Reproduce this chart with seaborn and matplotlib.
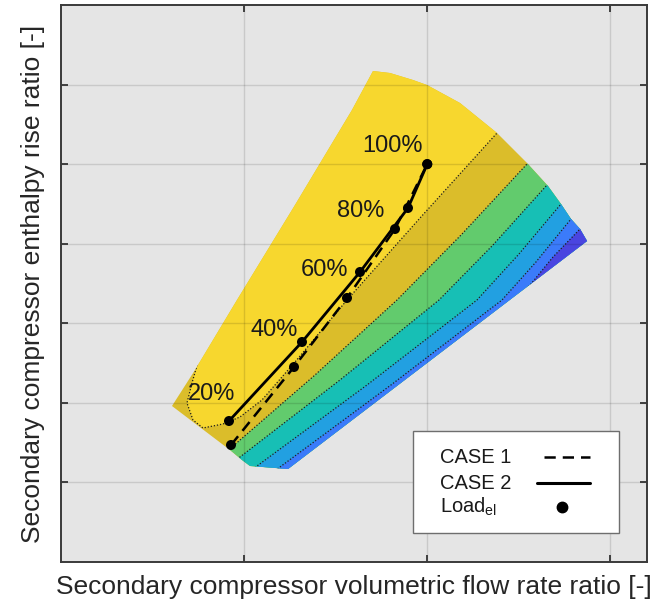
import matplotlib
matplotlib.use("Agg")
import matplotlib.pyplot as plt
from matplotlib.patches import Polygon, Rectangle
import numpy as np
import pandas as pd
import seaborn as sns

# operating map outline (flow ratio, enthalpy rise ratio)
map_x = [0.3031, 0.3659, 0.4805, 0.6389, 0.7945, 0.8519, 0.8983, 0.9611, 0.9993, 1.0894,
         1.1905, 1.2724, 1.3297, 1.3652, 1.3925, 1.4171, 1.4362, 0.6198, 0.5160, 0.4942, 0.4614]
map_y = [0.3921, 0.4826, 0.6585, 0.8973, 1.1361, 1.2341, 1.2291, 1.2115, 1.1989, 1.1537,
         1.0783, 1.0029, 0.9451, 0.8998, 0.8621, 0.8370, 0.8068, 0.2338, 0.2413, 0.2564, 0.2815]

# contour boundaries (lower-left -> upper-right)
gold_green_x = [0.4123, 0.4669, 0.6935, 0.9174, 1.0949, 1.2724, 1.3406]
gold_green_y = [0.2438, 0.2891, 0.4700, 0.6585, 0.8244, 1.0004, 1.0657]
green_teal_x = [0.4341, 0.4887, 0.7618, 1.0321, 1.1795, 1.3270, 1.3898]
green_teal_y = [0.2237, 0.2639, 0.4575, 0.6585, 0.7968, 0.9476, 1.0104]
teal_lb_x = [0.4887, 0.5352, 0.8355, 1.1358, 1.2505, 1.3652, 1.4171]
teal_lb_y = [0.2086, 0.2413, 0.4449, 0.6585, 0.7742, 0.8998, 0.9551]
lb_blue_x = [0.5433, 0.5980, 0.9010, 1.2041, 1.2969, 1.3925, 1.4444]
lb_blue_y = [0.2011, 0.2388, 0.4449, 0.6585, 0.7541, 0.8621, 0.9174]
blue_purple_x = [1.2396, 1.2833, 1.3434, 1.4171, 1.4717]
blue_purple_y = [0.6585, 0.6988, 0.7666, 0.8370, 0.8898]
# top efficiency plateau boundary
yellow_x = [0.3522, 0.3741, 0.3577, 0.3440, 0.3604, 0.3877, 0.4423, 0.4887, 0.5488, 0.6389,
            0.7809, 0.9802, 1.1905, 1.2532]
yellow_y = [0.5454, 0.5027, 0.4499, 0.3996, 0.3569, 0.3368, 0.3469, 0.3645, 0.4072, 0.5027,
            0.6585, 0.8646, 1.0783, 1.1411]

band_colors = ["#62CB6D", "#17BFB5", "#22A0E1", "#3B7BFA", "#4A45E0"]
gold = "#DBBD2A"
yellow = "#F7D72E"

# operating lines
load_labels = ["20%", "40%", "60%", "80%", "100%"]
case1_x = [0.4642, 0.6362, 0.7809, 0.9120, 1.0]
case1_y = [0.2941, 0.4901, 0.6636, 0.8370, 1.0]
case2_x = [0.4587, 0.6580, 0.8164, 0.9474, 1.0]
case2_y = [0.3544, 0.5530, 0.7289, 0.8898, 1.0]
label_x = [0.4123, 0.5816, 0.7208, 0.8191, 0.9038]
label_y = [0.4223, 0.5831, 0.7339, 0.8822, 1.0456]

legend_names = ["CASE 1", "CASE 2", "Load$_{\\mathregular{el}}$"]

sns.set_theme(style="ticks")
plt.rcParams["font.family"] = ["Liberation Sans", "DejaVu Sans"]
plt.rcParams["mathtext.fontset"] = "custom"
plt.rcParams["mathtext.rm"] = "Liberation Sans"
plt.rcParams["mathtext.it"] = "Liberation Sans"

fig = plt.figure(figsize=(6.6, 6.03), dpi=100)
ax = fig.add_axes([0.0924, 0.068, 0.8879, 0.9237])
ax.set_facecolor("#E5E5E5")

region = Polygon(np.column_stack([map_x, map_y]), closed=True, facecolor=gold,
                 edgecolor="none", zorder=1)
ax.add_patch(region)


def lower_right(xs, ys):
    pts = list(zip(xs, ys))
    pts += [(3.0, ys[-1]), (3.0, -1.0), (xs[0], -1.0)]
    return pts


bounds = [(gold_green_x, gold_green_y), (green_teal_x, green_teal_y), (teal_lb_x, teal_lb_y),
          (lb_blue_x, lb_blue_y), (blue_purple_x, blue_purple_y)]
for (bx, by), col in zip(bounds, band_colors):
    p = Polygon(lower_right(bx, by), closed=True, facecolor=col, edgecolor="none", zorder=1)
    ax.add_patch(p)
    p.set_clip_path(region)

ypts = list(zip(yellow_x, yellow_y)) + [(yellow_x[-1], 2.0), (0.0, 2.0), (0.0, yellow_y[0])]
yp = Polygon(ypts, closed=True, facecolor=yellow, edgecolor="none", zorder=1)
ax.add_patch(yp)
yp.set_clip_path(region)

for bx, by in bounds + [(yellow_x, yellow_y)]:
    ln, = ax.plot(bx, by, color="#1e1e1e", lw=0.9, ls=(0, (1, 1.5)), zorder=1.5)
    ln.set_clip_path(region)

df1 = pd.DataFrame({"x": case1_x, "y": case1_y})
df2 = pd.DataFrame({"x": case2_x, "y": case2_y})
sns.lineplot(data=df1, x="x", y="y", sort=False, ax=ax, color="black", lw=1.8,
             linestyle=(0, (4.5, 2.8)), zorder=3)
sns.lineplot(data=df2, x="x", y="y", sort=False, ax=ax, color="black", lw=2.0, zorder=3)
sns.scatterplot(data=pd.concat([df1, df2]), x="x", y="y", ax=ax, color="black", s=52,
                edgecolor="none", zorder=4)

for t, lx, ly in zip(load_labels, label_x, label_y):
    ax.text(lx, ly, t, fontsize=17, ha="center", va="center", color="#1a1a1a", zorder=5)

ax.set_xlim(0, 1.6)
ax.set_ylim(0, 1.4)
ax.set_xticks([0.5, 1.0, 1.5])
ax.set_yticks([0.2, 0.4, 0.6, 0.8, 1.0, 1.2])
ax.set_xticklabels([])
ax.set_yticklabels([])
ax.set_axisbelow(False)
ax.grid(True, color="black", alpha=0.12, lw=1.0)
ax.tick_params(direction="in", length=5, width=1.3, color="#333333",
               top=True, right=True, bottom=True, left=True)
for s in ax.spines.values():
    s.set_color("#3a3a3a")
    s.set_linewidth(1.4)
    s.set_zorder(6)

ax.set_xlabel("Secondary compressor volumetric flow rate ratio [-]", fontsize=19,
              color="#262626", labelpad=6)
ax.set_ylabel("Secondary compressor enthalpy rise ratio [-]", fontsize=19,
              color="#262626", labelpad=8)

# legend box: text on the left, symbols on the right
tr = ax.transAxes
ax.add_patch(Rectangle((0.6007, 0.052), 0.3515, 0.183, transform=tr, facecolor="white",
                       edgecolor="#6e6e6e", lw=1.0, zorder=7))
row_y = [0.1885, 0.1418, 0.0987]
for name, ry in zip(legend_names, row_y):
    ax.text(0.6468, ry, name, transform=tr, fontsize=14.5, color="#1a1a1a",
            ha="left", va="center", zorder=8)
ax.plot([0.8242, 0.9019], [row_y[0]] * 2, transform=tr, color="black", lw=1.8,
        ls=(0, (4.5, 2.8)), zorder=8)
ax.plot([0.8123, 0.9019], [row_y[1]] * 2, transform=tr, color="black", lw=2.2, zorder=8)
ax.plot([0.8558], [row_y[2]], transform=tr, color="black", marker="o", markersize=7.5,
        ls="none", zorder=8)

fig.savefig("out.png", dpi=100)
